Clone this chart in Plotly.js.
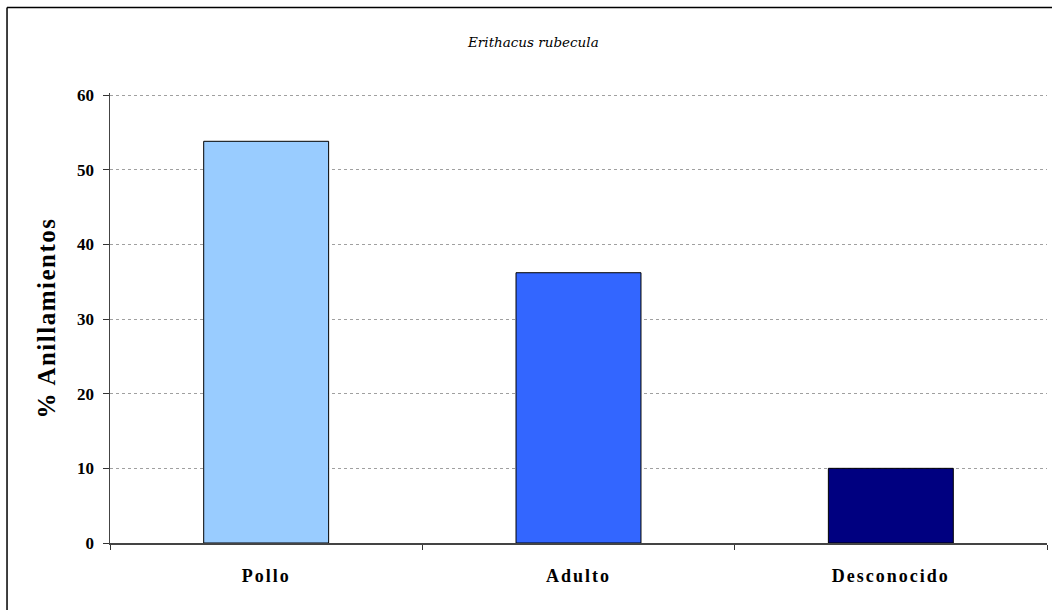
<!DOCTYPE html>
<html>
<head>
<meta charset="utf-8">
<script src="https://cdn.plot.ly/plotly-3.0.1.min.js"></script>
<style>
html,body{margin:0;padding:0;background:#fff;}
#chart{width:1052px;height:610px;}
#chart .xtick text{letter-spacing:2px;}
#chart .ytitle{letter-spacing:1.5px;}
</style>
</head>
<body>
<div id="chart"></div>
<script>
var categories = ["Pollo", "Adulto", "Desconocido"];
var values = [53.8, 36.2, 10.0];
var barColors = ["#99CCFF", "#3366FF", "#000080"];
var yTicks = [0, 10, 20, 30, 40, 50, 60];

var trace = {
  type: "bar",
  x: categories,
  y: values,
  marker: {color: barColors, line: {color: "#000000", width: 1}},
  width: 0.4,
  hoverinfo: "x+y"
};

var serif = "Liberation Serif";

var layout = {
  width: 1052,
  height: 610,
  paper_bgcolor: "#ffffff",
  plot_bgcolor: "#ffffff",
  margin: {l: 110, r: 5, t: 93, b: 67},
  showlegend: false,
  font: {family: serif, color: "#000"},
  title: {
    text: "Erithacus rubecula",
    font: {family: "DejaVu Serif", size: 13.5, color: "#000", style: "italic"},
    x: 0.507, xref: "container", xanchor: "center",
    y: 0.93, yref: "container", yanchor: "middle"
  },
  xaxis: {
    type: "category",
    tickson: "boundaries",
    ticks: "outside",
    ticklen: 5,
    tickcolor: "#333",
    showgrid: false,
    showline: true,
    linecolor: "#444",
    linewidth: 1.5,
    tickfont: {family: serif, size: 18, color: "#000", weight: "bold"},
    ticklabelstandoff: 16,
    zeroline: false,
    fixedrange: true
  },
  yaxis: {
    range: [0, 60.27],
    tickvals: yTicks,
    ticktext: yTicks.map(String),
    ticks: "outside",
    ticklen: 6,
    tickcolor: "#333",
    showline: true,
    linecolor: "#444",
    linewidth: 1.5,
    showgrid: true,
    gridcolor: "#a0a0a0",
    griddash: "3px,3px",
    gridwidth: 1,
    zeroline: false,
    tickfont: {family: serif, size: 17, color: "#000", weight: "bold"},
    ticklabelstandoff: 5,
    title: {
      text: "% Anillamientos",
      font: {family: serif, size: 25, color: "#000", weight: "bold"},
      standoff: 14
    },
    fixedrange: true
  },
  shapes: [
    {type: "line", xref: "paper", yref: "paper", x0: -0.1099, x1: -0.1099, y0: 1.19, y1: -0.16, line: {color: "#000", width: 1.5}},
    {type: "line", xref: "paper", yref: "paper", x0: -0.1099, x1: 1.01, y0: 1.19, y1: 1.19, line: {color: "#000", width: 1.5}}
  ]
};

Plotly.newPlot("chart", [trace], layout, {displayModeBar: false, staticPlot: true});
</script>
</body>
</html>
